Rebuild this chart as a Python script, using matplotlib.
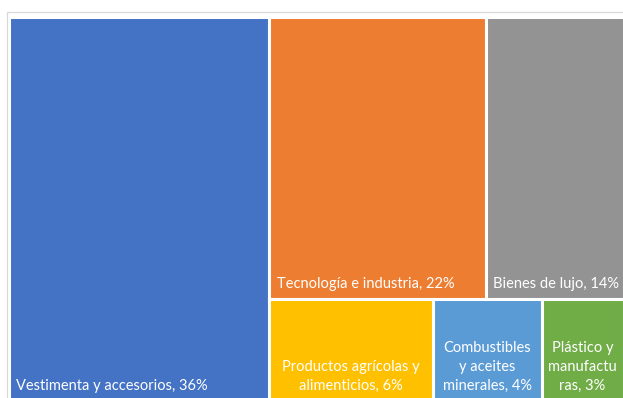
import matplotlib
matplotlib.use("Agg")
import matplotlib.pyplot as plt
from matplotlib.patches import Rectangle

plt.rcParams['font.family'] = ['Lato', 'DejaVu Sans']

# categorías del treemap (los saltos de línea son los del rótulo)
categorias = [
    "Vestimenta y accesorios",
    "Tecnología e industria",
    "Bienes de lujo",
    "Productos agrícolas y\nalimenticios",
    "Combustibles\ny aceites\nminerales",
    "Plástico y\nmanufactu\nras",
]
porcentajes = [36, 22, 14, 6, 4, 3]
colores = ["#4472C4", "#ED7D31", "#939393", "#FFC000", "#5B9BD5", "#70AD47"]

# grupos: una columna a la izquierda, luego fila superior y fila inferior a la derecha
columna = [0]
fila_sup = [1, 2]
fila_inf = [3, 4, 5]

W, H = 623, 398
fig = plt.figure(figsize=(W / 100, H / 100), dpi=100)

# borde del área del gráfico (se sale por la derecha y por abajo)
fig.add_artist(Rectangle((7 / W, -0.2), 1.2, (H - 12) / H + 0.2,
                         transform=fig.transFigure, fill=False,
                         edgecolor="#d9d9d9", linewidth=0.9))

ax = fig.add_axes([8.5 / W, 1 - 401.5 / H, 615 / W, 385 / H])
ax.set_xlim(0, 1)
ax.set_ylim(1, 0)
ax.axis("off")

total = sum(porcentajes)
cajas = {}

x0 = 0
for i in columna:
    w = porcentajes[i] / total
    cajas[i] = (x0, 0, w, 1)
    x0 += w

resto = sum(porcentajes[i] for i in fila_sup + fila_inf)
ancho = 1 - x0
y0 = 0
for fila in (fila_sup, fila_inf):
    s = sum(porcentajes[i] for i in fila)
    h = s / resto
    x = x0
    for i in fila:
        w = ancho * porcentajes[i] / s
        cajas[i] = (x, y0, w, h)
        x += w
    y0 += h

for i, (x, y, w, h) in cajas.items():
    ax.add_patch(Rectangle((x, y), w, h, facecolor=colores[i],
                           edgecolor="white", linewidth=2.2))
    texto = f"{categorias[i]}, {porcentajes[i]}%"
    if i in fila_inf:
        ax.annotate(texto, (x + w / 2, y + h), xytext=(0, 6.5),
                    textcoords="offset points", ha="center", va="bottom",
                    multialignment="center", color="white", fontsize=10.5,
                    linespacing=1.45)
    else:
        ax.annotate(texto, (x, y + h), xytext=(5.5, 6),
                    textcoords="offset points", ha="left", va="bottom",
                    color="white", fontsize=10.5)

fig.savefig("out.png", dpi=100)
